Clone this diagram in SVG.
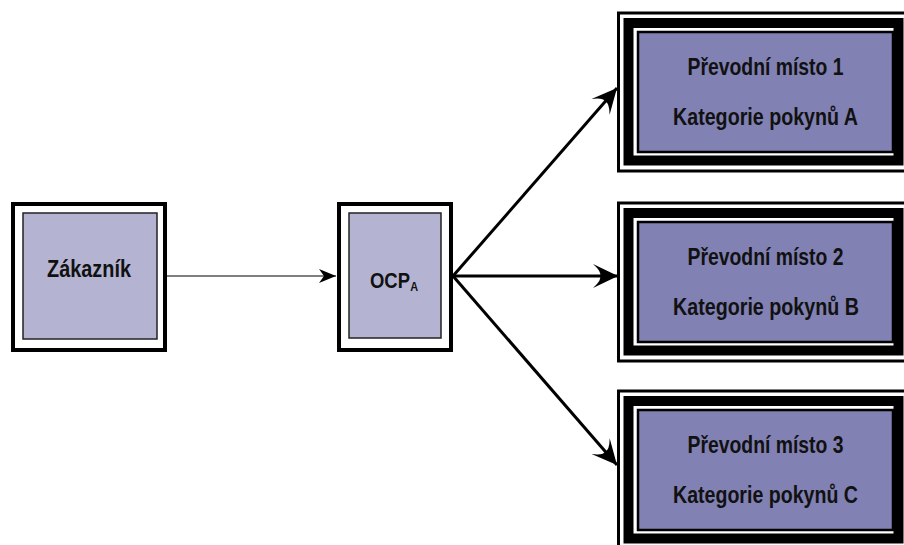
<svg xmlns="http://www.w3.org/2000/svg" width="904" height="545" viewBox="0 0 904 545">
<style>
.lbl{font-family:"Liberation Sans",Arial,sans-serif;font-weight:bold;font-size:23px;fill:#111}
.outer{fill:#fff;stroke:#000;stroke-width:4}
.innerL{fill:#b4b4d2;stroke:#222;stroke-width:1.5}
.f1{fill:none;stroke:#000;stroke-width:3}
.f2{fill:none;stroke:#000;stroke-width:10}
.innerR{fill:#8181b4;stroke:#000;stroke-width:2.5}
.thin{stroke:#000;stroke-width:1.2;fill:none}
.thick{stroke:#000;stroke-width:3;fill:none}
</style>
<defs>
<marker id="big" markerUnits="userSpaceOnUse" markerWidth="26" markerHeight="26" viewBox="0 0 26 26" refX="25" refY="13" orient="auto">
<path d="M25,13 L0,1 Q9,9 7,13 Q9,17 0,25 Z" fill="#000"/>
</marker>
<marker id="small" markerUnits="userSpaceOnUse" markerWidth="18" markerHeight="16" viewBox="0 0 18 16" refX="17" refY="8" orient="auto">
<path d="M17,8 L0,1 L5,8 L0,15 Z" fill="#000"/>
</marker>
</defs>
<rect width="904" height="545" fill="#fff"/>
<g id="connectors">
<line class="thin" x1="167" y1="276" x2="336" y2="276" marker-end="url(#small)"/>
<line class="thick" x1="453" y1="276" x2="617" y2="88" marker-end="url(#big)"/>
<line class="thick" x1="453" y1="276" x2="618" y2="276" marker-end="url(#big)"/>
<line class="thick" x1="453" y1="276" x2="617" y2="465" marker-end="url(#big)"/>
</g>
<g id="zakaznik">
<rect class="outer" x="13" y="204" width="152" height="146"/>
<rect class="innerL" x="23" y="213" width="134" height="126"/>
<text class="lbl" x="47" y="277" textLength="84" lengthAdjust="spacingAndGlyphs">Zákazník</text>
</g>
<g id="ocp">
<rect class="outer" x="339" y="204" width="112" height="146"/>
<rect class="innerL" x="349" y="213" width="92" height="125"/>
<text class="lbl" style="font-size:22px" transform="translate(370,288) scale(0.84,1)" x="0" y="0">OCP<tspan x="48" y="3" style="font-size:13px">A</tspan></text>
</g>
<g id="misto1">
<rect class="f1" x="618.5" y="13" width="300" height="158"/>
<rect class="f2" x="628.5" y="23" width="270" height="137.5"/>
<rect class="innerR" x="638" y="32" width="255" height="120"/>
<text class="lbl" x="687.5" y="75" textLength="156" lengthAdjust="spacingAndGlyphs">Převodní místo 1</text>
<text class="lbl" x="673" y="125" textLength="185" lengthAdjust="spacingAndGlyphs">Kategorie pokynů A</text>
</g>
<g id="misto2">
<rect class="f1" x="618.5" y="203" width="300" height="158"/>
<rect class="f2" x="628.5" y="213" width="270" height="137.5"/>
<rect class="innerR" x="638" y="222" width="255" height="120"/>
<text class="lbl" x="687.5" y="265" textLength="156" lengthAdjust="spacingAndGlyphs">Převodní místo 2</text>
<text class="lbl" x="673" y="315" textLength="186" lengthAdjust="spacingAndGlyphs">Kategorie pokynů B</text>
</g>
<g id="misto3">
<rect class="f1" x="618.5" y="391" width="300" height="158"/>
<rect class="f2" x="628.5" y="401" width="270" height="137.5"/>
<rect class="innerR" x="638" y="410" width="255" height="120"/>
<text class="lbl" x="687.5" y="453" textLength="156" lengthAdjust="spacingAndGlyphs">Převodní místo 3</text>
<text class="lbl" x="673" y="503" textLength="185" lengthAdjust="spacingAndGlyphs">Kategorie pokynů C</text>
</g>
</svg>
